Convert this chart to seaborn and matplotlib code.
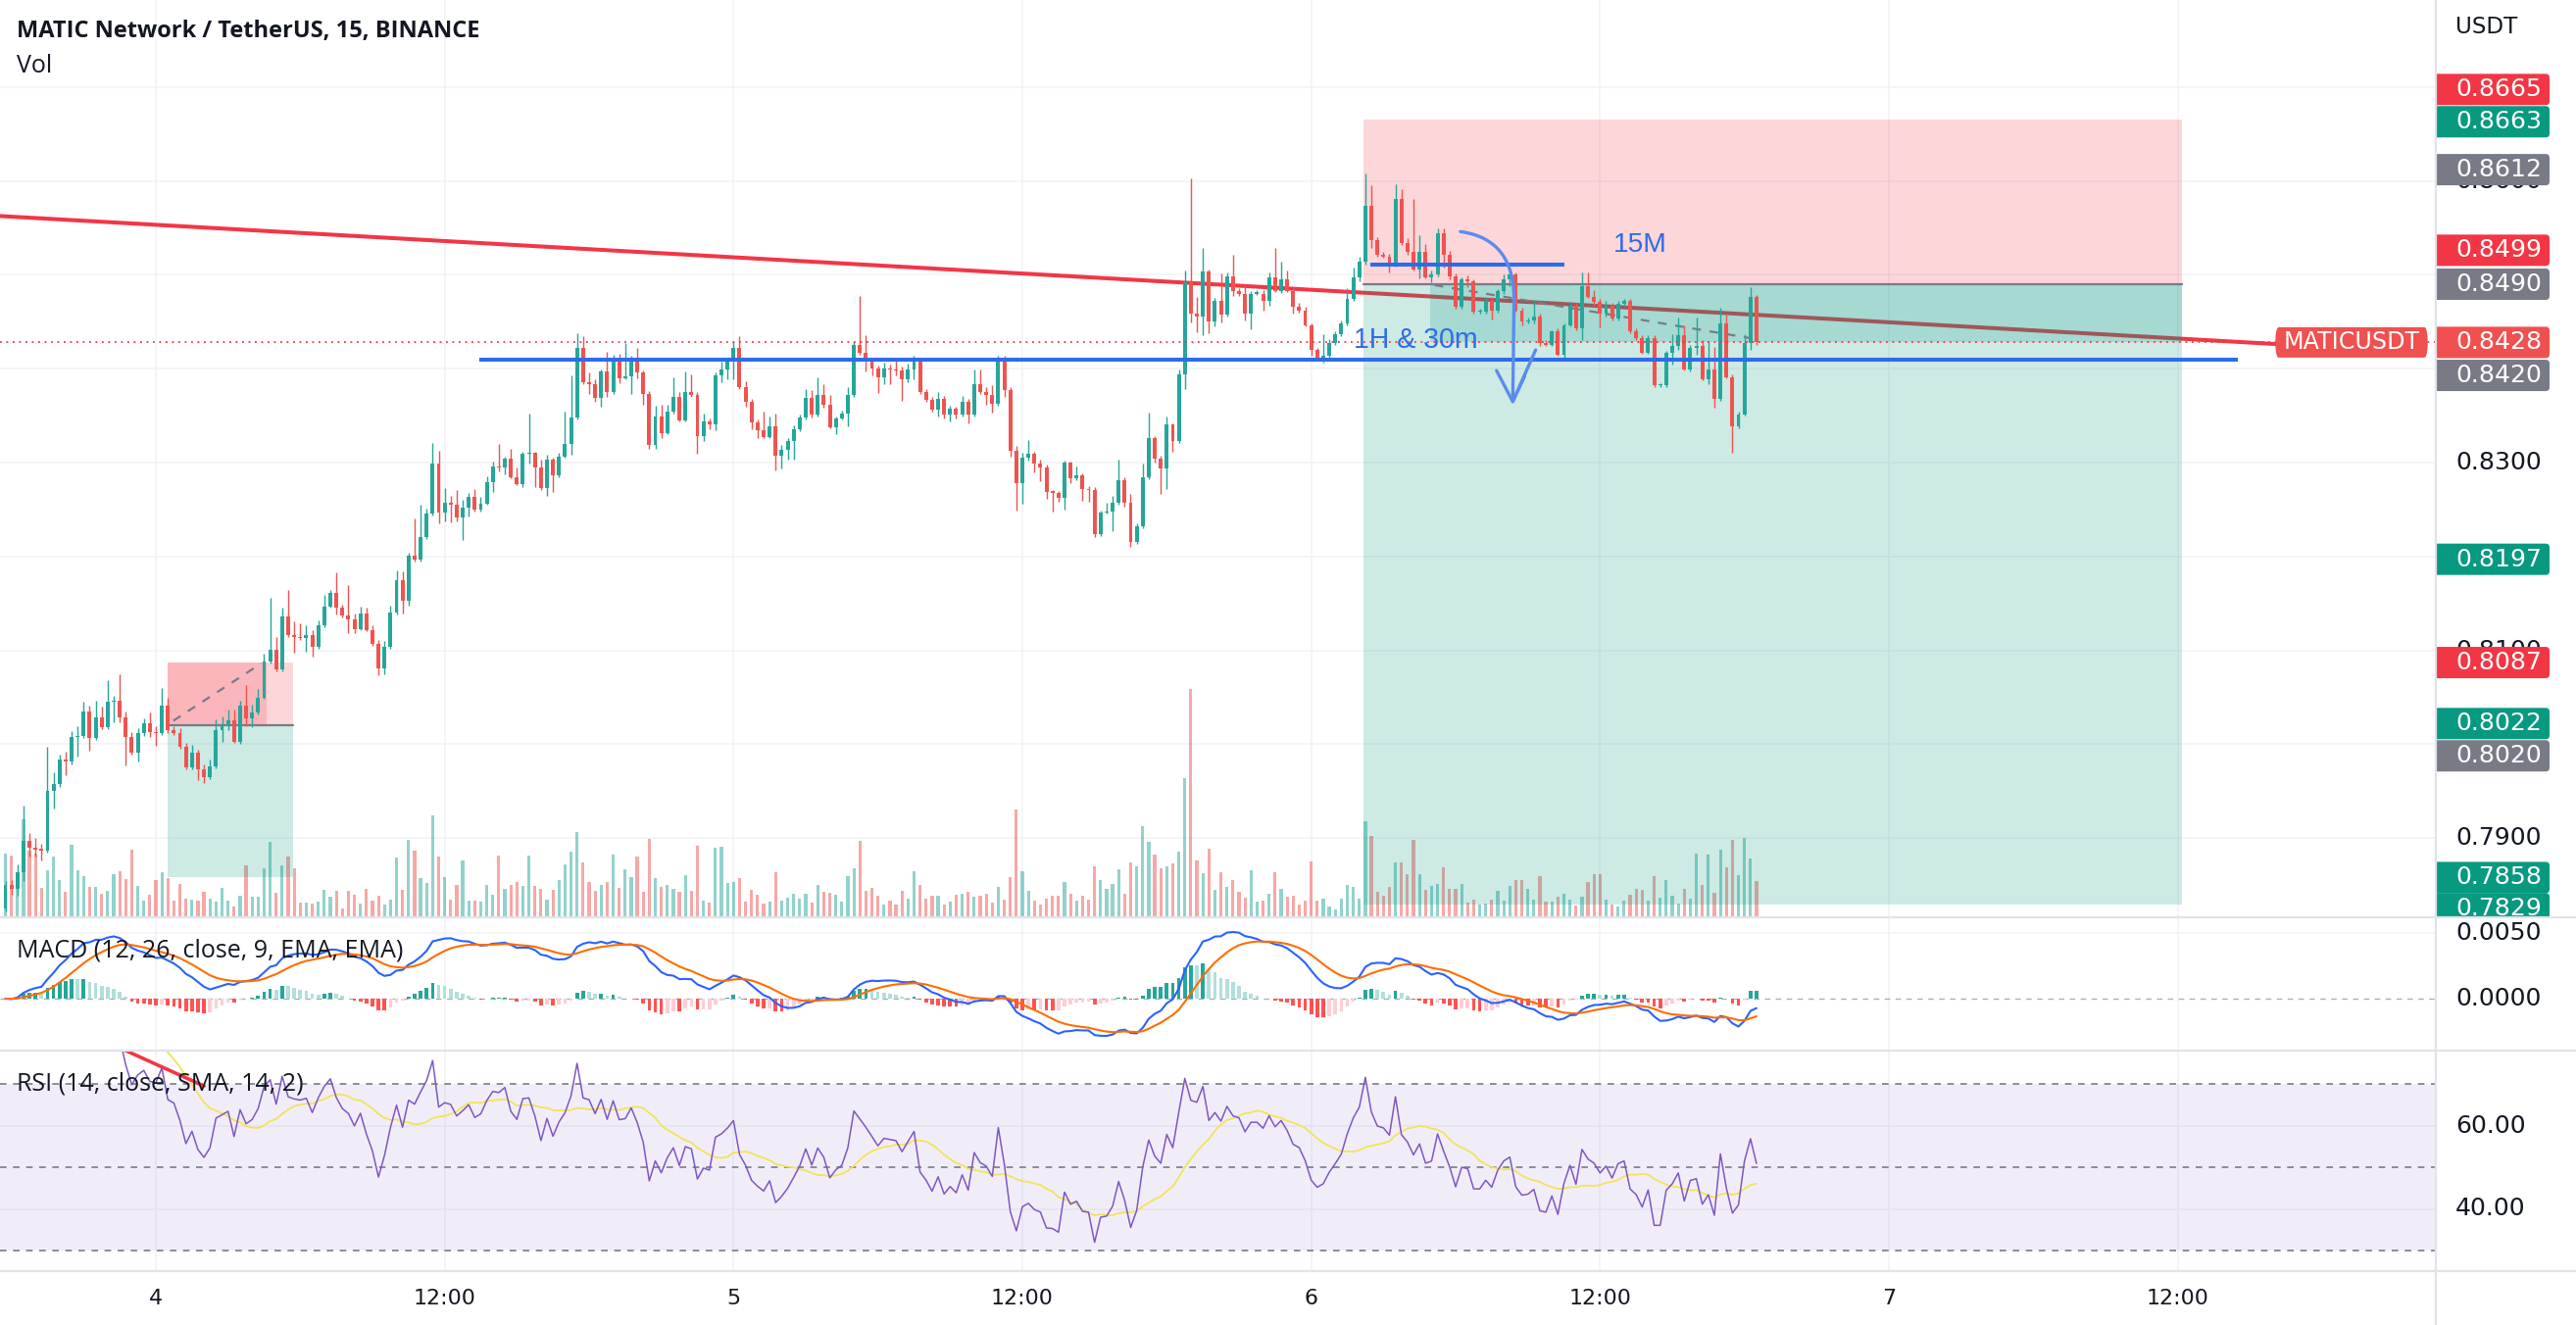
import numpy as np
import pandas as pd
import matplotlib
matplotlib.use("Agg")
import matplotlib.pyplot as plt
import matplotlib.transforms as mtransforms
from matplotlib.patches import Rectangle, FancyBboxPatch, PathPatch
from matplotlib.path import Path
from matplotlib.lines import Line2D
from matplotlib import font_manager as fm
import seaborn as sns

# ---------------------------------------------------------------- data
first_open = 0.7825
close = [
    0.7850, 0.7846, 0.7864, 0.7897, 0.7890, 0.7888, 0.7887, 0.7950, 0.7958, 0.7984,
    0.7982, 0.8008, 0.8009, 0.8035, 0.8007, 0.8029, 0.8018, 0.8045, 0.8046, 0.8029,
    0.8008, 0.7991, 0.8012, 0.8022, 0.8013, 0.8012, 0.8041, 0.8015, 0.8012, 0.7997,
    0.7975, 0.7991, 0.7973, 0.7965, 0.7976, 0.8015, 0.8020, 0.8025, 0.8003, 0.8041,
    0.8028, 0.8034, 0.8050, 0.8088, 0.8101, 0.8080, 0.8136, 0.8116, 0.8114, 0.8113,
    0.8116, 0.8104, 0.8127, 0.8147, 0.8161, 0.8146, 0.8137, 0.8133, 0.8123, 0.8139,
    0.8122, 0.8107, 0.8081, 0.8104, 0.8140, 0.8175, 0.8153, 0.8201, 0.8197, 0.8221,
    0.8246, 0.8299, 0.8247, 0.8257, 0.8255, 0.8242, 0.8252, 0.8263, 0.8250, 0.8256,
    0.8279, 0.8296, 0.8295, 0.8304, 0.8284, 0.8277, 0.8309, 0.8310, 0.8295, 0.8273,
    0.8303, 0.8286, 0.8306, 0.8320, 0.8348, 0.8422, 0.8386, 0.8384, 0.8369, 0.8397,
    0.8375, 0.8412, 0.8390, 0.8392, 0.8412, 0.8396, 0.8373, 0.8319, 0.8349, 0.8331,
    0.8354, 0.8370, 0.8345, 0.8375, 0.8372, 0.8328, 0.8344, 0.8341, 0.8393, 0.8399,
    0.8409, 0.8422, 0.8380, 0.8365, 0.8343, 0.8334, 0.8327, 0.8339, 0.8307, 0.8314,
    0.8323, 0.8335, 0.8348, 0.8369, 0.8351, 0.8372, 0.8362, 0.8338, 0.8347, 0.8352,
    0.8372, 0.8425, 0.8417, 0.8409, 0.8400, 0.8391, 0.8400, 0.8399, 0.8398, 0.8389,
    0.8399, 0.8409, 0.8375, 0.8367, 0.8356, 0.8368, 0.8351, 0.8357, 0.8351, 0.8365,
    0.8351, 0.8384, 0.8375, 0.8372, 0.8363, 0.8412, 0.8377, 0.8313, 0.8278, 0.8305,
    0.8309, 0.8299, 0.8295, 0.8269, 0.8268, 0.8262, 0.8300, 0.8283, 0.8286, 0.8272,
    0.8271, 0.8224, 0.8247, 0.8248, 0.8257, 0.8281, 0.8257, 0.8215, 0.8232, 0.8284,
    0.8326, 0.8304, 0.8294, 0.8341, 0.8323, 0.8394, 0.8492, 0.8459, 0.8456, 0.8504,
    0.8450, 0.8472, 0.8458, 0.8498, 0.8483, 0.8480, 0.8459, 0.8480, 0.8480, 0.8472,
    0.8497, 0.8483, 0.8495, 0.8483, 0.8466, 0.8462, 0.8446, 0.8420, 0.8410, 0.8414,
    0.8427, 0.8437, 0.8448, 0.8474, 0.8497, 0.8514, 0.8573, 0.8537, 0.8521, 0.8519,
    0.8511, 0.8581, 0.8534, 0.8524, 0.8506, 0.8524, 0.8497, 0.8500, 0.8544, 0.8521,
    0.8498, 0.8466, 0.8495, 0.8493, 0.8461, 0.8461, 0.8472, 0.8462, 0.8483, 0.8495,
    0.8500, 0.8462, 0.8450, 0.8451, 0.8456, 0.8427, 0.8425, 0.8440, 0.8415, 0.8446,
    0.8467, 0.8443, 0.8488, 0.8476, 0.8471, 0.8459, 0.8467, 0.8453, 0.8469, 0.8472,
    0.8440, 0.8433, 0.8417, 0.8433, 0.8382, 0.8382, 0.8417, 0.8424, 0.8436, 0.8399,
    0.8422, 0.8424, 0.8389, 0.8399, 0.8368, 0.8448, 0.8391, 0.8339, 0.8351, 0.8427,
    0.8476, 0.8428,
]
# wick lengths above / below the candle body, in units of 0.0001
wick_up = [
    4, 5, 8, 38, 8, 10, 6, 47, 12, 5, 8, 6, 10, 10, 6, 17, 11, 23, 6, 29,
    6, 5, 5, 6, 12, 6, 19, 8, 4, 5, 4, 8, 3, 5, 8, 12, 10, 12, 12, 5,
    22, 8, 9, 8, 55, 13, 9, 28, 15, 15, 11, 6, 5, 12, 3, 22, 3, 33, 6, 8,
    6, 5, 4, 6, 8, 10, 9, 3, 39, 34, 5, 22, 14, 16, 7, 16, 8, 5, 9, 7,
    6, 5, 24, 2, 11, 11, 3, 42, 1, 8, 5, 2, 4, 34, 45, 16, 13, 10, 5, 2,
    21, 3, 4, 35, 2, 10, 2, 3, 12, 13, 8, 21, 5, 22, 19, 3, 8, 3, 3, 9,
    2, 7, 13, 7, 3, 3, 20, 10, 13, 5, 3, 5, 3, 9, 8, 19, 12, 10, 2, 3,
    8, 4, 52, 19, 2, 3, 6, 4, 12, 4, 6, 5, 1, 3, 3, 7, 3, 4, 3, 6,
    3, 15, 15, 5, 10, 2, 2, 3, 5, 5, 15, 3, 4, 3, 2, 2, 2, 1, 10, 3,
    3, 3, 2, 9, 8, 22, 3, 10, 3, 15, 27, 2, 3, 8, 1, 5, 13, 111, 17, 25,
    2, 3, 29, 5, 23, 3, 10, 3, 4, 4, 5, 32, 19, 10, 3, 4, 4, 2, 2, 23,
    5, 3, 3, 12, 11, 5, 35, 22, 3, 3, 3, 15, 10, 5, 57, 18, 9, 5, 6, 6,
    4, 3, 2, 4, 2, 3, 3, 4, 2, 5, 2, 2, 3, 3, 16, 3, 3, 1, 3, 2,
    4, 3, 15, 15, 8, 3, 5, 3, 3, 2, 2, 3, 3, 3, 3, 3, 2, 13, 19, 10,
    3, 30, 6, 30, 24, 17, 10, 3, 3, 10, 11, 3,
]
wick_dn = [
    3, 6, 7, 10, 10, 8, 11, 2, 18, 3, 15, 3, 21, 2, 14, 2, 2, 2, 22, 6,
    31, 2, 9, 3, 5, 14, 2, 3, 2, 2, 2, 2, 11, 6, 2, 2, 13, 5, 2, 3,
    9, 10, 2, 2, 2, 2, 2, 2, 17, 2, 14, 11, 2, 2, 2, 8, 2, 15, 5, 2,
    2, 2, 7, 6, 2, 2, 14, 5, 2, 2, 2, 2, 12, 10, 19, 5, 24, 9, 2, 2,
    1, 10, 4, 8, 1, 1, 3, 10, 21, 2, 9, 17, 2, 1, 12, 2, 2, 11, 4, 9,
    5, 2, 5, 1, 19, 6, 11, 4, 4, 5, 1, 2, 1, 1, 2, 19, 5, 6, 7, 7,
    10, 20, 2, 5, 7, 8, 1, 1, 15, 13, 11, 20, 2, 2, 3, 2, 4, 1, 8, 1,
    13, 2, 2, 12, 7, 17, 7, 16, 5, 23, 3, 10, 2, 2, 2, 7, 4, 7, 4, 2,
    9, 2, 2, 10, 10, 2, 7, 7, 29, 22, 3, 9, 15, 8, 20, 4, 12, 5, 2, 13,
    13, 3, 2, 1, 21, 2, 4, 5, 2, 2, 2, 4, 27, 22, 12, 2, 16, 10, 17, 20,
    12, 5, 9, 2, 6, 3, 8, 17, 2, 10, 5, 1, 2, 1, 7, 2, 1, 6, 1, 4,
    2, 2, 2, 2, 2, 4, 3, 8, 2, 1, 8, 2, 2, 3, 1, 10, 1, 5, 2, 13,
    3, 2, 2, 6, 2, 2, 2, 10, 2, 3, 7, 1, 4, 2, 3, 3, 1, 1, 1, 5,
    1, 2, 12, 1, 4, 15, 3, 2, 2, 3, 2, 2, 1, 1, 2, 2, 2, 13, 4, 1,
    2, 7, 1, 5, 10, 2, 1, 29, 2, 1, 7, 3,
]
volume_k = [
    65, 63, 45, 100, 68, 65, 30, 48, 62, 38, 26, 74, 48, 42, 31, 31, 24, 27, 44, 47,
    39, 69, 32, 17, 23, 38, 46, 40, 17, 34, 19, 18, 17, 26, 19, 16, 30, 17, 11, 22,
    53, 21, 21, 50, 77, 25, 53, 62, 50, 15, 15, 14, 16, 28, 21, 27, 9, 27, 23, 14,
    29, 17, 22, 13, 18, 61, 28, 79, 68, 40, 35, 104, 62, 41, 18, 33, 58, 17, 17, 16,
    33, 23, 63, 29, 33, 36, 32, 63, 32, 29, 18, 28, 38, 54, 67, 87, 56, 36, 27, 33,
    36, 64, 30, 49, 41, 62, 26, 80, 40, 31, 33, 29, 26, 43, 27, 73, 17, 15, 71, 72,
    35, 36, 40, 16, 28, 23, 14, 16, 46, 17, 20, 24, 19, 24, 15, 33, 26, 25, 23, 16,
    42, 50, 78, 27, 30, 22, 13, 17, 13, 27, 19, 47, 33, 19, 22, 22, 13, 16, 23, 24,
    26, 21, 22, 24, 15, 31, 18, 41, 110, 47, 27, 17, 13, 19, 22, 22, 36, 24, 17, 22,
    18, 52, 38, 29, 34, 49, 24, 56, 52, 93, 77, 64, 50, 52, 55, 67, 142, 233, 58, 45,
    70, 28, 46, 31, 38, 26, 20, 48, 16, 17, 24, 46, 29, 21, 22, 13, 17, 57, 17, 19,
    11, 8, 19, 33, 31, 19, 98, 83, 26, 22, 31, 56, 56, 44, 79, 44, 28, 32, 34, 51,
    29, 29, 34, 15, 18, 13, 14, 18, 27, 17, 32, 38, 38, 29, 18, 42, 16, 16, 21, 24,
    18, 12, 21, 36, 44, 44, 18, 13, 11, 17, 23, 29, 28, 17, 42, 20, 38, 22, 14, 29,
    19, 65, 33, 64, 25, 69, 51, 79, 43, 81, 60, 37,
]

time_tick_bars = [25, 73, 121, 169, 217, 265, 313, 361]
time_tick_labels = ["4", "12:00", "5", "12:00", "6", "12:00", "7", "12:00"]
price_grid = [0.79, 0.80, 0.81, 0.82, 0.83, 0.84, 0.85, 0.86, 0.87]
price_tick_labels = [0.79, 0.81, 0.83, 0.86]   # the ones not fully hidden by tags
macd_ticks = [0.0050, 0.0000]
rsi_ticks = [60, 40]

# price-scale tags: (value, colour kind)
tag_values = [0.8665, 0.8663, 0.8612, 0.8499, 0.8490, 0.8428, 0.8420,
              0.8197, 0.8087, 0.8022, 0.8020, 0.7858, 0.7829]
tag_kinds = ["red", "green", "gray", "red", "gray", "last", "gray",
             "green", "red", "green", "gray", "green", "green"]

# drawings
current_price = 0.8428
support_level = 0.8410
short_level = 0.8511
trend_start = (-0.9, 0.85626)
trend_end = (377.5, 0.84262)
pos_big = dict(x0=225.7, x1=361.7, stop=0.8665, entry=0.8490, target=0.7829,
               fill_from=236.8, dash=((237.5, 0.8489), (290.5, 0.8432)))
pos_small = dict(x0=26.96, x1=47.8, stop=0.8087, entry=0.8020, target=0.7858,
                 fill_to=43.4, dash=((27.9, 0.8025), (42.5, 0.8086)))

# ---------------------------------------------------------------- style
sns.set_style("white")
TEAL, RED = "#26A69A", "#EF5350"
TXT = "#131722"
GRID = "#F0F2F6"
SEP = "#E0E3EB"
BLUE = "#2E6BEA"
TAG_COL = {"red": "#F23645", "green": "#089981", "gray": "#787B86", "last": "#F0504F"}

avail = {f.name for f in fm.fontManager.ttflist}
def pick(*names):
    for n in names:
        if n in avail:
            return n
    return "DejaVu Sans"
F_UI = pick("Liberation Sans Narrow", "Open Sans", "Noto Sans")
F_NUM = pick("DejaVu Sans")
F_DRAW = pick("Liberation Sans", "Arimo", "DejaVu Sans")
plt.rcParams["font.family"] = [F_UI, "DejaVu Sans"]

W, H = 2628, 1352
fig = plt.figure(figsize=(W / 100, H / 100), dpi=100)
fig.patch.set_facecolor("white")
renderer = fig.canvas.get_renderer()

def fit_size(text, family, target_px, weight="normal", base=20.0):
    t = fig.text(0, 0, text, fontsize=base, family=family, weight=weight)
    w = t.get_window_extent(renderer).width
    t.remove()
    return base * target_px / w

def fx(px):
    return px / W

def fy(py):
    return 1 - py / H

def add_ax(x0, y0, x1, y1):
    ax = fig.add_axes([fx(x0), fy(y1), (x1 - x0) / W, (y1 - y0) / H])
    ax.set_axis_off()
    return ax

CHART_R = 2485
PX_PER_BAR = 6.139
X0_PX = 5.5
XLIM = (-X0_PX / PX_PER_BAR, (CHART_R - X0_PX) / PX_PER_BAR)
PX_PER_PRICE = 9580.0
P_YLIM = (0.83 - (936 - 472) / PX_PER_PRICE, 0.83 + 472 / PX_PER_PRICE)
M_YLIM = (-(1072 - 1019) / 67 * 0.005, (1019 - 936) / 67 * 0.005)
R_YLIM = (30 - (1297 - 1276) / 4.25, 70 + (1106 - 1072) / 4.25)

ax_p = add_ax(0, 0, CHART_R, 936)
ax_m = add_ax(0, 936, CHART_R, 1072)
ax_r = add_ax(0, 1072, CHART_R, 1297)
ax_ps = add_ax(CHART_R, 0, W, 936)
ax_ms = add_ax(CHART_R, 936, W, 1072)
ax_rs = add_ax(CHART_R, 1072, W, 1297)
for a in (ax_p, ax_m, ax_r):
    a.set_xlim(*XLIM)
for a in (ax_ps, ax_ms, ax_rs):
    a.set_xlim(CHART_R, W)
ax_p.set_ylim(*P_YLIM); ax_ps.set_ylim(*P_YLIM)
ax_m.set_ylim(*M_YLIM); ax_ms.set_ylim(*M_YLIM)
ax_r.set_ylim(*R_YLIM); ax_rs.set_ylim(*R_YLIM)

# ---------------------------------------------------------------- frame
df = pd.DataFrame({"close": close})
df["bar"] = np.arange(len(df))
df["open"] = np.r_[first_open, df["close"].values[:-1]]
df["high"] = np.maximum(df["open"], df["close"]) + np.array(wick_up) * 1e-4
df["low"] = np.minimum(df["open"], df["close"]) - np.array(wick_dn) * 1e-4
df["volume"] = volume_k
df["up"] = df["close"] >= df["open"]
df["col"] = np.where(df["up"], TEAL, RED)

# indicators
ema12 = df["close"].ewm(span=12, adjust=False).mean()
ema26 = df["close"].ewm(span=26, adjust=False).mean()
df["macd"] = ema12 - ema26
df["signal"] = df["macd"].ewm(span=9, adjust=False).mean()
df["hist"] = df["macd"] - df["signal"]
delta = np.diff(df["close"].values, prepend=first_open)
gain = pd.Series(np.clip(delta, 0, None)).ewm(alpha=1 / 14, adjust=False).mean()
loss = pd.Series(np.clip(-delta, 0, None)).ewm(alpha=1 / 14, adjust=False).mean()
df["rsi"] = 100 - 100 / (1 + gain / loss.replace(0, np.nan))
df["rsi"] = df["rsi"].fillna(100)
df["rsi_ma"] = df["rsi"].rolling(14).mean()

# ---------------------------------------------------------------- grids
for a in (ax_p, ax_m, ax_r):
    for b in time_tick_bars:
        a.axvline(b, color=GRID, lw=1.1, zorder=0)
for p in price_grid:
    ax_p.axhline(p, color=GRID, lw=1.1, zorder=0)
ax_m.axhline(0.005, color=GRID, lw=1.1, zorder=0)
for v in rsi_ticks:
    ax_r.axhline(v, color=GRID, lw=1.1, zorder=0)

# ---------------------------------------------------------------- volume
vol_tr = mtransforms.blended_transform_factory(
    ax_p.transData, mtransforms.Affine2D().scale(1, 1 / 936.0) + ax_p.transAxes)
ax_p.bar(df["bar"], df["volume"], width=0.52, bottom=0, color=df["col"],
         alpha=0.5, linewidth=0, transform=vol_tr, zorder=1)

# ---------------------------------------------------------------- trendline
ax_p.plot([trend_start[0], trend_end[0]], [trend_start[1], trend_end[1]],
          color="#F23645", lw=2.9, solid_capstyle="butt", zorder=1.5)

# ---------------------------------------------------------------- positions
def position(pos, inner):
    x0, x1 = pos["x0"], pos["x1"]
    ax_p.add_patch(Rectangle((x0, pos["entry"]), x1 - x0, pos["stop"] - pos["entry"],
                             fc="#F23645", alpha=0.2, lw=0, zorder=2))
    ax_p.add_patch(Rectangle((x0, pos["target"]), x1 - x0, pos["entry"] - pos["target"],
                             fc="#089981", alpha=0.2, lw=0, zorder=2))
    inner()
    ax_p.plot([x0, x1], [pos["entry"], pos["entry"]], color="#787B86", lw=1.6, zorder=2.2)
    (a, b) = pos["dash"]
    ax_p.plot([a[0], b[0]], [a[1], b[1]], color="#787B86", lw=1.6,
              dashes=(4, 4), zorder=2.3)

def inner_big():
    ax_p.add_patch(Rectangle((pos_big["fill_from"], current_price),
                             pos_big["x1"] - pos_big["fill_from"],
                             pos_big["entry"] - current_price,
                             fc="#089981", alpha=0.2, lw=0, zorder=2.1))

def inner_small():
    ax_p.add_patch(Rectangle((pos_small["x0"], pos_small["entry"]),
                             pos_small["fill_to"] - pos_small["x0"],
                             pos_small["stop"] - pos_small["entry"],
                             fc="#F23645", alpha=0.2, lw=0, zorder=2.1))

position(pos_big, inner_big)
position(pos_small, inner_small)

# ---------------------------------------------------------------- candles
ax_p.vlines(df["bar"], df["low"], df["high"], colors=df["col"], lw=1.0, zorder=3)
body_lo = np.minimum(df["open"], df["close"])
body_h = np.maximum(np.abs(df["close"] - df["open"]), 1.2 / PX_PER_PRICE)
ax_p.bar(df["bar"], body_h, bottom=body_lo, width=0.64, color=df["col"],
         linewidth=0, zorder=3.1)

# ---------------------------------------------------------------- drawings
ax_p.plot([78.8, 371.0], [support_level, support_level], color=BLUE, lw=2.9,
          solid_capstyle="butt", zorder=4)
ax_p.plot([226.8, 259.0], [short_level, short_level], color=BLUE, lw=2.9,
          solid_capstyle="butt", zorder=4)
ax_p.axhline(current_price, color="#F23645", lw=1.3, dashes=(1, 2.6), zorder=4)

s15 = fit_size("15M", F_DRAW, 55)
ax_p.text(271.6, 0.8532, "15M", color=BLUE, fontsize=s15, family=F_DRAW,
          ha="center", va="center", zorder=5)
s1h = fit_size("1H & 30m", F_DRAW, 127)
ax_p.text(224.0, 0.8430, "1H & 30m", color=BLUE, fontsize=s1h, family=F_DRAW,
          ha="left", va="center", zorder=5)

ARROW = "#5A8CEE"
arc = Path([(241.8, 0.8546), (251.0, 0.8538), (250.7, 0.8470), (250.5, 0.8365)],
           [Path.MOVETO, Path.CURVE3, Path.CURVE3, Path.LINETO])
ax_p.add_patch(PathPatch(arc, fc="none", ec=ARROW, lw=2.4, zorder=5, capstyle="round"))
ax_p.plot([247.8, 250.5, 254.3], [0.8398, 0.8365, 0.8420], color=ARROW, lw=2.4,
          solid_joinstyle="round", solid_capstyle="round", zorder=5)
ax_p.plot([250.5, 252.5], [0.8365, 0.8392], color=ARROW, lw=2.2, zorder=5,
          solid_capstyle="round")

# MATICUSDT tag
asp_p = (1 / PX_PER_PRICE) / (1 / PX_PER_BAR)
tag_x0 = (2321 - X0_PX) / PX_PER_BAR
tag_x1 = (2477 - X0_PX) / PX_PER_BAR
ax_p.add_patch(FancyBboxPatch((tag_x0, current_price - 15.5 / PX_PER_PRICE),
                              tag_x1 - tag_x0, 31 / PX_PER_PRICE,
                              boxstyle="round,pad=0,rounding_size=0.6",
                              mutation_aspect=asp_p * PX_PER_BAR,
                              fc=TAG_COL["last"], ec="none", zorder=6))
s_tag = fit_size("MATICUSDT", F_NUM, 138)
ax_p.text((tag_x0 + tag_x1) / 2, current_price, "MATICUSDT", color="white",
          fontsize=s_tag, family=F_NUM, ha="center", va="center", zorder=7)

# ---------------------------------------------------------------- MACD
hist = df["hist"].values
prev = np.r_[hist[0], hist[:-1]]
hcol = np.where(hist >= 0, np.where(hist > prev, "#26A69A", "#B2DFDB"),
                np.where(hist > prev, "#FFCDD2", "#FF5252"))
ax_m.axhline(0, color="#787B86", lw=1.0, alpha=0.6, dashes=(4, 4), zorder=1)
ax_m.bar(df["bar"], df["hist"], width=0.6, color=hcol, linewidth=0, zorder=2)
sns.lineplot(data=df, x="bar", y="macd", ax=ax_m, color="#2962FF", lw=1.5,
             legend=False, zorder=3)
sns.lineplot(data=df, x="bar", y="signal", ax=ax_m, color="#FF6D00", lw=1.5,
             legend=False, zorder=3)

# ---------------------------------------------------------------- RSI
ax_r.axhspan(30, 70, color="#7E57C2", alpha=0.1, lw=0, zorder=0.5)
for lvl in (70, 50, 30):
    ax_r.axhline(lvl, color="#787B86", lw=1.2, dashes=(4, 4), zorder=1)
sns.lineplot(data=df, x="bar", y="rsi_ma", ax=ax_r, color="#F2E35A", lw=1.3,
             legend=False, zorder=2)
sns.lineplot(data=df, x="bar", y="rsi", ax=ax_r, color="#7E57C2", lw=1.1,
             legend=False, zorder=3)
ax_r.plot([19.7, 33.0], [78.2, 69.5], color="#F23645", lw=2.6, zorder=4)
for a in (ax_m, ax_r):
    a.set_axis_off()
    a.set_xlim(*XLIM)
ax_m.set_ylim(*M_YLIM)
ax_r.set_ylim(*R_YLIM)

# ---------------------------------------------------------------- scales
s_num = fit_size("0.8300", F_NUM, 88)
for p in price_tick_labels:
    ax_ps.text(2505, p, f"{p:.4f}", fontsize=s_num, family=F_NUM, color=TXT,
               va="center", ha="left", zorder=1)
nudge_px = {0.8665: -31, 0.8499: -26, 0.8420: 26, 0.8020: 31, 0.7829: 4}
asp_s = 1 / PX_PER_PRICE
for v, k in zip(tag_values, tag_kinds):
    yc = v - nudge_px.get(v, 0) / PX_PER_PRICE
    ax_ps.add_patch(FancyBboxPatch((2478, yc - 16 / PX_PER_PRICE), 2601 - 2478,
                                   32 / PX_PER_PRICE,
                                   boxstyle="round,pad=0,rounding_size=4",
                                   mutation_aspect=asp_s, fc=TAG_COL[k], ec="none",
                                   zorder=3))
    ax_ps.text(2505, yc, f"{v:.4f}", fontsize=s_num, family=F_NUM, color="white",
               va="center", ha="left", zorder=4)
for v in macd_ticks:
    ax_ms.text(2505, v, f"{v:.4f}", fontsize=s_num, family=F_NUM, color=TXT,
               va="center", ha="left")
for v in rsi_ticks:
    ax_rs.text(2505, v, f"{v:.2f}", fontsize=s_num, family=F_NUM, color=TXT,
               va="center", ha="left")
fig.text(fx(2505), fy(27), "USDT", fontsize=s_num * 0.92, family=F_NUM, color=TXT,
         va="center", ha="left")

# time axis
s_time = fit_size("12:00", F_NUM, 64)
tr_time = mtransforms.blended_transform_factory(ax_r.transData, fig.transFigure)
for b, lab in zip(time_tick_bars, time_tick_labels):
    fig.text(b, fy(1325), lab, transform=tr_time, fontsize=s_time, family=F_NUM,
             color=TXT, ha="center", va="center")

# separators
for yy in (936, 1072, 1297):
    fig.add_artist(Line2D([0, 1], [fy(yy), fy(yy)], color=SEP, lw=1.6,
                          transform=fig.transFigure))
fig.add_artist(Line2D([fx(CHART_R), fx(CHART_R)], [0, 1], color=SEP, lw=1.6,
                      transform=fig.transFigure))

# legends / titles
s_title = fit_size("MATIC Network / TetherUS, 15, BINANCE", F_UI, 473, weight="bold")
fig.text(fx(17), fy(32), "MATIC Network / TetherUS, 15, BINANCE", fontsize=s_title,
         weight="bold", family=F_UI, color=TXT, va="center", ha="left")
s_lab = fit_size("MACD (12, 26, close, 9, EMA, EMA)", F_UI, 394)
fig.text(fx(17), fy(67), "Vol", fontsize=s_lab, family=F_UI, color=TXT,
         va="center", ha="left")
fig.text(fx(17), fy(970), "MACD (12, 26, close, 9, EMA, EMA)", fontsize=s_lab,
         family=F_UI, color=TXT, va="center", ha="left")
fig.text(fx(17), fy(1106), "RSI (14, close, SMA, 14, 2)", fontsize=s_lab,
         family=F_UI, color=TXT, va="center", ha="left")

fig.savefig("out.png", dpi=100, facecolor="white")
